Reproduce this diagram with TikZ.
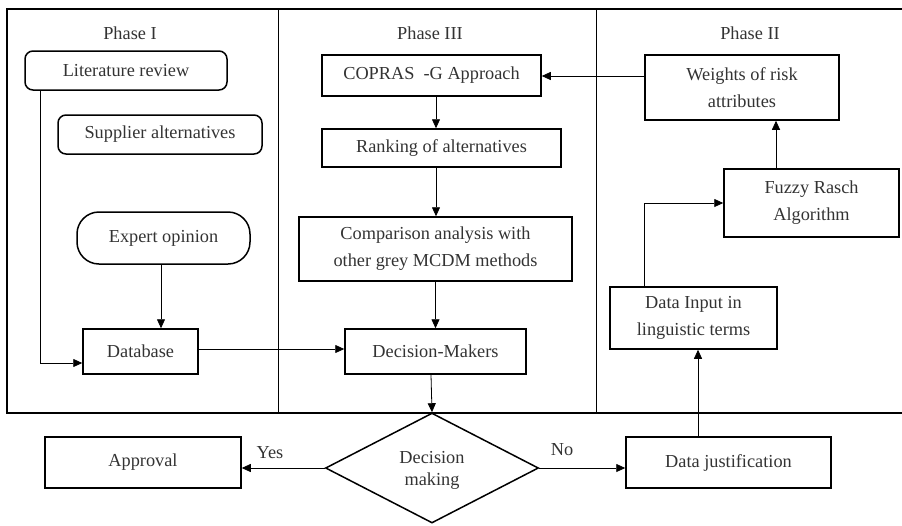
\documentclass[tikz,border=0pt]{standalone}
\usepackage{fontspec}
\setmainfont{Liberation Serif}
\usetikzlibrary{shapes.geometric,arrows.meta}
\begin{document}
\begin{tikzpicture}[x=1pt,y=-1pt,
  every node/.style={font=\fontsize{18.3}{27}\selectfont, text=black!80, align=center, inner sep=0pt},
  box/.style={draw, line width=1.5pt, minimum width=#1},
  rbox/.style={draw, line width=1.5pt, rounded corners=8pt, minimum width=#1},
  conn/.style={line width=0.8pt, -{Triangle[length=9pt,width=8pt]}},
  frame/.style={line width=1.6pt}]
\useasboundingbox (0,0) rectangle (902,525);
% frame
\draw[frame] (902,9) -- (7,9) -- (7,413) -- (902,413);
\draw[line width=1pt] (278,9) -- (278,413);
\draw[line width=1pt] (596,9) -- (596,413);
% phase labels
\node (p1) at (130,33) {Phase I};
\node (p3) at (430,33) {Phase III};
\node (p2) at (750,33) {Phase II};
% Phase I
\node[rbox=202pt, minimum height=39pt] (lit) at (126,70.5) {Literature review};
\node[rbox=204pt, minimum height=39pt] (sup) at (160,134.5) {Supplier alternatives};
\node[draw, line width=1.5pt, rounded corners=22pt, minimum width=173pt, minimum height=52pt] (exp) at (163.5,238) {Expert opinion};
\node[box=115pt, minimum height=45pt] (db) at (140.5,351.5) {Database};
% Phase III
\node[box=219pt, minimum height=41pt] (cop) at (431.5,75.5) {COPRAS\ \ -G Approach};
\node[box=239pt, minimum height=38pt] (rank) at (441.5,148) {Ranking of alternatives};
\node[box=273pt, minimum height=64pt] (comp) at (435.5,249) {Comparison analysis with\\other grey MCDM methods};
\node[box=181pt, minimum height=45pt] (dm) at (435.5,351.5) {Decision-Makers};
% Phase II
\node[box=194pt, minimum height=65pt] (wts) at (742,87.5) {Weights of risk\\attributes};
\node[box=175pt, minimum height=68pt] (fuz) at (811.5,203) {Fuzzy Rasch\\Algorithm};
\node[box=167pt, minimum height=62pt] (inp) at (693.5,318) {Data Input in\\linguistic terms};
% bottom
\node[draw, diamond, line width=1.5pt, minimum width=213pt, minimum height=110pt] (dia) at (432,468) {};
\node[font=\fontsize{18.3}{22}\selectfont] (diat) at (432,470) {Decision\\making};
\node[box=196pt, minimum height=51pt] (appr) at (143,462.5) {Approval};
\node[box=205pt, minimum height=51pt] (just) at (728.5,462.5) {Data justification};
\node (yes) at (270,453) {Yes};
\node (no) at (562,450) {No};
% connectors
\draw[conn] ([xshift=16pt]lit.south west) |- ([yshift=-11.5pt]db.west);
\draw[conn] ([xshift=-2.5pt]exp.south) -- ([xshift=-2.5pt]exp.south |- db.north);
\draw[conn] ([yshift=2.5pt]db.east) -- ([yshift=2.5pt]db.east -| dm.west);
\draw[conn] ([xshift=4.5pt]cop.south) -- ([xshift=4.5pt]cop.south |- rank.north);
\draw[conn] ([xshift=4.5pt]cop.south |- rank.south) -- ([xshift=4.5pt]cop.south |- comp.north);
\draw[conn] (comp.south) -- (dm.north);
\draw[conn] ([xshift=-4.5pt]dm.south) -- (dia.north);
\draw[conn] (dia.west) -- (dia.west -| appr.east);
\draw[conn] (dia.east) -- (dia.east -| just.west);
\draw[conn] ([xshift=-30.5pt]just.north) -- ([xshift=-30.5pt]just.north |- inp.south);
\draw[conn] ([xshift=-49.5pt]inp.north) |- (fuz.west);
\draw[conn] ([xshift=-35.5pt]fuz.north) -- ([xshift=-35.5pt]fuz.north |- wts.south);
\draw[conn] ([yshift=11.5pt]wts.west) -- ([yshift=11.5pt]wts.west -| cop.east);
\end{tikzpicture}
\end{document}
